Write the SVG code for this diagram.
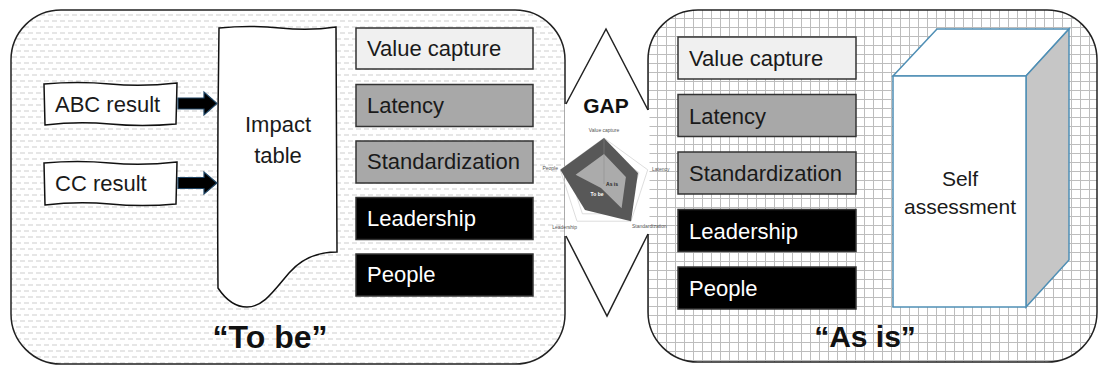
<svg xmlns="http://www.w3.org/2000/svg" width="1101" height="367" viewBox="0 0 1101 367">
<style>
text{font-family:"Liberation Sans",Arial,sans-serif;fill:#1a1a1a}
.lbl{font-size:22px}
.wt{fill:#ffffff}
.big{font-size:32px;font-weight:bold;fill:#111}
.panel{stroke:#222;stroke-width:1.5}
.box{stroke:#333;stroke-width:1.5}
.vc{fill:#f0f0f0}
.gr{fill:#a8a8a8}
.bk{fill:#000}
.hand{fill:#fff;stroke:#111;stroke-width:1.5}
.arr{fill:#000;stroke:#1f4565;stroke-width:1.2}
.tiny{font-size:5px;fill:#555}
.ring{fill:none;stroke:#cfcfcf;stroke-width:0.7}
</style>
<defs>
<pattern id="dash" width="8" height="12" patternUnits="userSpaceOnUse">
<rect width="8" height="12" fill="#fff"/>
<path d="M0,3H5M4,9H8M0,9H1" stroke="#cdcdcd" stroke-width="1"/>
</pattern>
<pattern id="grid" width="9" height="9" patternUnits="userSpaceOnUse">
<rect width="9" height="9" fill="#fff"/>
<path d="M0,0.5H9M0.5,0V9" stroke="#bdbdbd" stroke-width="1"/>
</pattern>
</defs>
<rect width="1101" height="367" fill="#fff"/>

<g id="to-be-panel">
<rect x="11" y="10" width="554" height="354" rx="50" ry="50" fill="url(#dash)" class="panel"/>
<text x="270" y="348" text-anchor="middle" class="big">“To be”</text>
</g>
<g id="as-is-panel">
<rect x="648" y="10" width="449" height="352" rx="50" ry="50" fill="url(#grid)" class="panel"/>
<text x="865" y="347" text-anchor="middle" class="big" style="font-size:30px">“As is”</text>
</g>

<g id="gap">
<polygon points="606,29 648,110 649.5,110 649.5,234 648,234 607,316 566,236 564.5,236 564.5,104 566,104" fill="#fff"/>
<path d="M566,104L606,29L648,110M566,236L607,316L648,234" fill="none" stroke="#222" stroke-width="1.5"/>
<text x="606" y="113" text-anchor="middle" style="font-size:21px;font-weight:bold;fill:#111">GAP</text>
</g>

<g id="radar">
<polygon class="ring" points="604,138 647.7,169.8 631,221.2 577,221.2 560.3,169.8"/>
<polygon class="ring" points="604,147.2 639,172.6 625.6,213.8 582.4,213.8 569,172.6"/>
<polygon class="ring" points="604,156.4 630.2,175.5 620.2,206.3 587.8,206.3 577.8,175.5"/>
<polygon class="ring" points="604,165.6 621.5,178.3 614.8,198.9 593.2,198.9 586.5,178.3"/>
<polygon points="604,138 638,173 631,221.2 585,210 560.3,169.8" fill="#585858"/>
<polygon points="604,154 625.9,176.9 621.6,208.2 601,188 575.6,174.8" fill="#ababab"/>
<path d="M604,184V138" stroke="#888" stroke-width="0.5"/>
<text x="604" y="132" text-anchor="middle" class="tiny">Value capture</text>
<text x="652" y="171" class="tiny">Latency</text>
<text x="632" y="228" class="tiny">Standardization</text>
<text x="577" y="229" text-anchor="end" class="tiny">Leadership</text>
<text x="558" y="170" text-anchor="end" class="tiny">People</text>
<text x="612" y="186" text-anchor="middle" class="tiny" style="font-weight:bold;fill:#222">As is</text>
<text x="597" y="196" text-anchor="middle" class="tiny" style="font-weight:bold;fill:#fff">To be</text>
</g>

<g id="abc-result">
<path class="hand" d="M44,84 Q78,81 110,84 T177,83 L176,124 Q142,127 110,124 T45,125 Z"/>
<text x="55" y="112" class="lbl">ABC result</text>
</g>
<g id="cc-result">
<path class="hand" d="M44,163 Q78,160 110,163 T177,162 L176,204 Q142,207 110,204 T45,205 Z"/>
<text x="55" y="191" class="lbl">CC result</text>
</g>

<g id="impact-table">
<path class="hand" d="M219,28 Q250,25 280,28 T336,27 L337,252 C318,252 301,259 289,273 C273,292 263,307 247,307 C236,307 226,300 218,288 Q217,160 219,28 Z"/>
<text x="278" y="132" text-anchor="middle" class="lbl">Impact</text>
<text x="278" y="163" text-anchor="middle" class="lbl">table</text>
</g>

<g id="connectors">
<polygon class="arr" points="178,98 204,98 204,92 217,103.5 204,115 204,109 178,109"/>
<polygon class="arr" points="178,177.5 204,177.5 204,172 217,183 204,194 204,188.5 178,188.5"/>
</g>

<g id="tobe-value-capture"><rect x="356" y="28" width="177" height="41" class="box vc"/><text x="367" y="56" class="lbl">Value capture</text></g>
<g id="tobe-latency"><rect x="356" y="84.5" width="177" height="42" class="box gr"/><text x="367" y="112.5" class="lbl">Latency</text></g>
<g id="tobe-standardization"><rect x="356" y="141" width="177" height="42" class="box gr"/><text x="367" y="169" class="lbl">Standardization</text></g>
<g id="tobe-leadership"><rect x="356" y="197.5" width="177" height="42" class="box bk"/><text x="367" y="225.5" class="lbl wt">Leadership</text></g>
<g id="tobe-people"><rect x="356" y="254" width="177" height="42" class="box bk"/><text x="367" y="282" class="lbl wt">People</text></g>

<g id="asis-value-capture"><rect x="678" y="37" width="178" height="42" class="box vc"/><text x="689" y="66" class="lbl">Value capture</text></g>
<g id="asis-latency"><rect x="678" y="94.5" width="178" height="42" class="box gr"/><text x="689" y="123.5" class="lbl">Latency</text></g>
<g id="asis-standardization"><rect x="678" y="152" width="178" height="42" class="box gr"/><text x="689" y="181" class="lbl">Standardization</text></g>
<g id="asis-leadership"><rect x="678" y="209.5" width="178" height="42" class="box bk"/><text x="689" y="238.5" class="lbl wt">Leadership</text></g>
<g id="asis-people"><rect x="678" y="267" width="178" height="42" class="box bk"/><text x="689" y="296" class="lbl wt">People</text></g>

<g id="self-assessment">
<polygon points="893,76 937,29 1069,29 1026,76" fill="#fff" stroke="#4f8fb5" stroke-width="1.5"/>
<polygon points="1026,76 1069,29 1069,260 1026,307" fill="#c6c6c6" stroke="#4f8fb5" stroke-width="1.5"/>
<rect x="893" y="76" width="133" height="231" fill="#fff" stroke="#4f8fb5" stroke-width="1.5"/>
<text x="960" y="186" text-anchor="middle" class="lbl" style="font-size:21px">Self</text>
<text x="960" y="214" text-anchor="middle" class="lbl" style="font-size:21px">assessment</text>
</g>
</svg>
